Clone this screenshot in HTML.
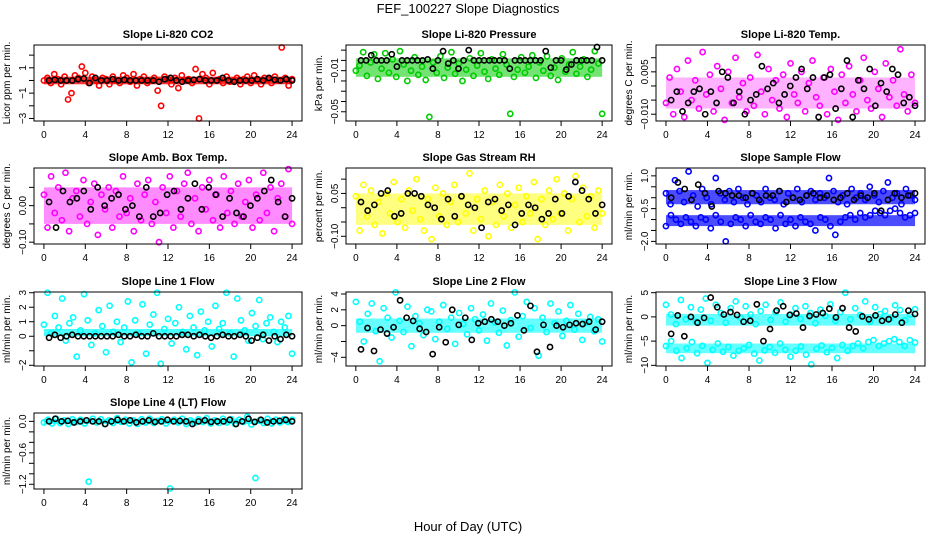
<!DOCTYPE html>
<html><head><meta charset="utf-8"><style>
html,body{margin:0;padding:0;background:#fff;}
svg{display:block;font-family:"Liberation Sans",sans-serif;}
</style></head><body>
<svg id="chart" width="936" height="540" viewBox="0 0 936 540">
<text x="468" y="13" font-size="13" text-anchor="middle">FEF_100227  Slope Diagnostics</text>
<text x="468" y="531" font-size="13" text-anchor="middle">Hour of Day (UTC)</text>
</svg>
<script>
const xTicks = [0,4,8,12,16,20,24];
const titles = ["Slope Li-820 CO2","Slope Li-820 Pressure","Slope Li-820 Temp.","Slope Amb. Box Temp.","Slope Gas Stream RH","Slope Sample Flow","Slope Line 1 Flow","Slope Line 2 Flow","Slope Line 3 Flow","Slope Line 4 (LT) Flow"];
const yTitles = ["Licor ppm per min.","kPa per min.","degrees C per min.","degrees C per min.","percent per min.","ml/min per min.","ml/min per min.","ml/min per min.","ml/min per min.","ml/min per min."];
const colors = ["#ff0000","#00cc00","#ff00ff","#ff00ff","#ffff00","#0000ff","#00ffff","#00ffff","#00ffff","#00ffff"];
const bandOpacity = [0.8,0.55,0.3,0.45,0.5,0.7,0.7,0.6,0.6,0.8];
const yRanges = [[-3.2,2.8],[-0.059,0.015],[-0.0124,0.0145],[-0.105,0.103],[-0.127,0.139],[-2.12,1.36],[-2.05,3.05],[-5.1,4.25],[-10.14,5.14],[-1.29,0.16]];
const yTickVals = [[2,1,0,-1,-2,-3],[0.01,0,-0.01,-0.02,-0.03,-0.04,-0.05],[0.01,0.005,0,-0.005,-0.01],[0.05,0,-0.05,-0.1],[0.1,0.05,0,-0.05,-0.1],[1,0.5,0,-0.5,-1,-1.5,-2],[3,2,1,0,-1,-2],[4,2,0,-2,-4],[5,0,-5,-10],[0,-0.2,-0.4,-0.6,-0.8,-1,-1.2]];
const yTickLabels = [["","1","","\u22121","","\u22123"],["","","\u22120.01","","","","\u22120.05"],["","0.005","","","\u22120.010"],["","0.00","","\u22120.10"],["","0.05","","","\u22120.10"],["1.0","","","\u22120.5","","","\u22122.0"],["3","2","1","0","","\u22122"],["4","2","0","","\u22124"],["5","0","\u22125","\u221210"],["0.0","","","\u22120.6","","","\u22121.2"]];
const bands = [[[-0.3,0.3]],[[-0.016,0.002]],[[-0.008,0.003]],[[-0.05,0.05]],[[-0.06,0.05]],[[-0.3,0.35],[-1.3,-0.8]],[[0,0.5]],[[-0.9,0.9]],[[-1.8,0.6],[-7.5,-5.5]],[[-0.05,0.05]]];
const colA = [
[0,0.2,-0.2,0.5,0.1,-0.3,0.3,-1.5,-1.0,0.4,0.2,1.1,0.6,-0.2,0.3,0,-0.4,0.2,0.1,-0.3,0.3,0,-0.2,0.4,0.2,-0.1,0.5,-0.4,0.1,0.3,-0.2,0,0.2,-0.8,-2.0,0.3,0.1,-0.3,0.2,-0.6,0.4,0,0.1,-0.2,0.9,-3.0,0.5,0.2,-0.3,0.6,0,0.1,-0.2,0.3,-0.1,0,0.2,-0.3,0.1,0.3,-0.2,0.4,0,-0.3,0.2,0.1,-0.2,0.3,0,2.6,0.2,-0.4,0.1],
[-0.01,-0.005,0.008,-0.015,-0.002,0.006,-0.018,-0.008,0.007,-0.012,0.001,-0.016,0.009,-0.004,-0.02,-0.01,0.003,-0.014,-0.006,-0.019,-0.055,-0.002,-0.012,0.004,-0.017,-0.007,0.008,-0.013,-0.003,-0.02,-0.009,0.002,-0.015,-0.005,0.007,-0.011,-0.018,0.001,-0.008,-0.014,0.006,-0.004,-0.052,-0.016,-0.009,0.003,-0.012,-0.006,0.005,-0.017,-0.002,-0.01,0.004,-0.015,-0.007,-0.019,0.002,-0.011,-0.004,0.008,-0.013,-0.006,0.001,-0.016,-0.009,0.009,-0.003,-0.052],
[-0.006,0.003,-0.01,0.006,-0.002,-0.011,0.009,-0.005,0.002,-0.008,0.012,-0.003,0.004,-0.009,0.007,-0.001,-0.012,0.005,-0.006,0.01,-0.004,0.001,-0.009,0.003,-0.007,0.011,-0.002,-0.01,0.006,-0.005,0.002,-0.008,0.004,-0.011,0.008,-0.003,-0.006,0.005,-0.009,0.001,0.009,-0.004,-0.007,0.003,-0.01,0.006,-0.002,-0.012,0.004,-0.006,0.007,-0.003,-0.009,0.002,0.01,-0.005,-0.008,0.005,-0.001,-0.011,0.008,-0.004,0.002,-0.007,0.013,-0.003,-0.009,0.004,-0.006],
[0.03,-0.06,0.08,-0.02,0.05,-0.04,0.09,-0.07,0.02,0.04,-0.03,0.07,-0.05,0.01,0.06,-0.08,0.03,-0.01,0.05,-0.06,0.04,-0.03,0.08,-0.02,0.02,-0.07,0.06,-0.04,0.03,0.07,-0.05,0.01,-0.1,0.05,-0.02,0.08,-0.06,0.04,-0.03,0.06,0.09,-0.05,0.02,-0.07,0.05,-0.01,0.07,-0.04,0.03,-0.06,0.08,-0.02,0.04,-0.05,0.06,-0.03,0.01,0.07,-0.06,0.03,-0.04,0.09,-0.02,0.05,-0.07,0.02,0.06,-0.03,0.1,-0.05],
[0.04,-0.08,0.08,-0.03,0.06,-0.06,0.02,-0.09,0.05,-0.02,0.09,-0.05,0.03,-0.07,0.06,-0.01,0.1,-0.04,-0.08,0.03,-0.11,0.07,-0.03,0.05,-0.06,0.02,0.08,-0.05,0.04,-0.02,0.12,-0.08,0.03,-0.04,0.06,-0.1,0.02,-0.06,0.08,-0.03,0.05,-0.07,0.01,0.07,-0.05,0.04,-0.02,0.09,-0.11,0.03,-0.06,0.06,-0.04,0.1,-0.02,0.05,-0.08,0.03,0.11,-0.05,0.07,-0.03,0.04,-0.07,0.06,-0.02],
[0.2,-0.3,0.8,0.3,-0.2,1.2,0.1,-0.4,0.4,0,-0.3,0.9,0.2,-0.1,0.3,-0.2,0.4,0,-0.3,0.2,0.1,-0.2,0.4,0,-0.1,0.3,-0.3,0.2,0,0.4,-0.2,0.1,0.3,-0.1,0.2,0,0.9,0.3,-0.2,0.1,-0.3,0.4,0,0.2,-0.1,0.5,0.1,-0.2,0.3,0.7,0,0.2,-0.3,0.4,0.1,-0.1],
[0.8,3,0.2,1.4,0.6,2.6,-0.3,0.9,1.3,-1.4,0.4,2.9,1.1,-0.6,0.2,1.8,0.7,-1.1,2.1,0.3,1.0,-0.4,0.6,2.4,-1.8,1.1,0.2,2.2,-1.2,0.8,1.5,3,-1.9,0.5,1.2,-0.5,0.9,2.0,0.3,-0.9,1.4,0.6,-1.3,1.7,0.4,1.0,-0.7,2.1,0.5,0.9,3,0.2,-1.4,2.6,1.1,0.4,-0.3,1.6,0.7,2.5,-0.2,0.9,1.3,0.3,-0.4,1.0,0.6,1.4,-1.2],
[3,0.5,-2,1.5,2.8,-0.7,-4.5,2.2,1,-1.5,4.2,0.6,-0.8,2.4,-2.6,1.2,0.3,-1.2,2,1.8,-1.7,0.5,2.6,-0.4,1,-2.3,1.6,0.2,-1.1,2.2,0.8,-0.6,1.4,-1.9,2.8,0.4,-0.9,1.9,-2.5,0.7,4.2,-1.4,1.2,3,-0.3,2.2,-3.8,1,-0.8,2.8,0.3,1.8,-1.3,0.6,2.6,-0.5,1.5,-1.8,0.4,1.1,-0.7,0.8,-2],
[2.5,0.5,-1.5,3.5,-0.5,2,-1,1.5,3.8,-0.8,2.5,0.8,-1.2,1.8,3.2,-0.2,2.2,0.5,-1.5,1.2,2.5,-0.6,1,3,-1,0.5,1.8,-0.4,2.2,0.8,-1.3,1.5,0.2,2.6,-0.8,1,5,-0.5,1.8,0.4,3.2,-1,2,0.6,1.2,-0.3,2.4,1.4,-0.7,0.5,1.6],
[-0.02,0.03,-0.04,0.05,-0.03,0.02,-0.05,0.04,-0.01,0.03,-0.04,-1.15,0.05,-0.02,0.04,-0.05,0.02,-0.03,0.06,-0.01,0.03,-0.04,0.02,-0.05,0.04,-0.02,0.05,-0.03,0.01,0.04,-0.04,-1.28,0.03,-0.02,0.05,-0.05,0.02,-0.03,0.04,-0.01,0.06,-0.04,0.02,-0.03,0.05,-0.02,0.04,-0.05,0.03,-0.01,0.09,-0.06,-1.08,0.02,-0.03,0.05,-0.04,0.03,-0.02,0.04,-0.01,0.03]
];
const colB = [[],[],[],[],[],
[-1.3,-0.8,-1.0,-1.2,-0.9,-1.1,-1.3,-0.9,-1.0,-1.4,-0.8,-1.1,-2.0,-1.2,-0.9,-1.0,-1.3,-0.8,-1.1,-1.2,-0.9,-1.0,-1.4,-0.8,-1.2,-1.0,-1.3,-0.9,-1.1,-1.2,-1.5,-0.9,-1.0,-1.3,-1.7,-1.1,-0.9,-0.8,-1.0,-0.7,-0.9,-0.8,-0.6,-0.7,-0.8,-0.6,-0.5,-0.7,-0.9,-0.8,-0.7],
[],[],
[-6,-5,-7,-8.5,-6.5,-5.2,-7.5,-6,-9.5,-6.8,-5.5,-7.2,-6.2,-8,-7,-6.5,-5.8,-7.6,-9,-6.9,-6.2,-7.4,-5.5,-6.8,-8.2,-7,-6.1,-7.8,-9.8,-6.6,-5.9,-7.3,-6.4,-8.5,-5.8,-7,-6,-5.5,-6.5,-5.2,-4.8,-6,-5.5,-5,-4.6,-5.2,-6,-4.8,-5.3],
[]];
const blk = [
[0,0.05,0,0,0,0.1,0.15,-0.2,0.2,0,0,0.1,0,0.05,0,0,0,0,0,-0.1,0.1,0.2,0,-0.1,0,0.05,0.1,0,0,0,0.2,0,-0.1,0,0,0,0.1,0,0.2,0.05,0,0.1,0],
[0,0,0.005,0,0,0,0.006,-0.006,0,0,0,0,0,0.001,-0.008,0,0.009,-0.003,0,-0.008,0,0.01,0,0,0,0,0,0,0,-0.008,0,0,0,0,0,0,0.009,-0.007,0,0,-0.009,-0.004,0,0,0,0,0.013,0],
[-0.005,-0.002,-0.009,-0.006,-0.002,-0.001,-0.01,-0.002,-0.006,0.005,0.003,-0.006,-0.002,-0.01,-0.005,-0.003,0.007,-0.001,0.001,-0.006,-0.003,0,0.003,0.006,-0.001,0.003,-0.011,0.003,0.004,-0.008,-0.001,0.009,-0.011,0.002,-0.001,0.006,-0.007,0.001,-0.002,0.006,0.004,-0.006,-0.004,-0.007],
[0.01,-0.06,0.04,0.01,0.02,0.04,-0.01,0.05,0,0.02,0.03,-0.01,0,-0.03,0.05,-0.03,-0.02,0.03,0.04,-0.01,0.02,0.06,-0.01,0.05,0.03,-0.03,0.02,-0.02,-0.03,0,0.02,0.04,0.07,0.01,-0.03,0.02],
[0.02,-0.01,0.01,0.05,0.06,-0.03,-0.02,0.05,0.05,0.04,0.01,0,-0.04,0.03,-0.03,0.04,0.01,0,-0.07,0.02,0.03,-0.01,0.01,-0.06,-0.02,0.01,0,-0.04,-0.02,0.03,-0.02,0.04,0.09,0.06,0.03,-0.02,0.01],
[0,0.7,0.4,-0.1,0.6,0.2,-0.4,0.3,0.2,0.1,0.1,0,0.2,-0.1,0.1,0.1,0.3,-0.2,0,-0.1,0.1,0.2,0,0.1,-0.1,0,0.2,-0.1,0.1,0,0.2,-0.6,-0.1,0.2,0,0.1,0.2],
[-0.1,0.1,-0.1,0,0.1,0,0,0,0,0,0,0,0.1,0,0,0.1,0,0,0.2,0,0,0,0,0.1,0.1,0,0.1,0,-0.1,0,0.1,0,0,0.1,0,-0.3,-0.1,0.1,-0.3,0,-0.2,0.1,0],
[-3,-0.3,-3.2,-0.5,-1,-0.2,3.2,1,0.6,-0.4,-0.8,-3.6,-0.2,-2.1,2,0.1,1,-1.8,0.3,0.5,0.8,0.5,0,0.3,1.3,-0.6,2.5,-3.3,0.1,-2.7,0,-0.2,0.1,0.3,0.2,0.5,-0.5,0.5],
[-3.5,0.3,-4,0,-1.2,-0.2,4,2,0.5,1,0.4,-1,-0.8,2.6,-5,-2.5,1.3,2.2,0.4,0.7,-2.2,0.2,0.5,0.8,1.7,-0.1,1.8,-2.2,-3,0.1,-0.5,0.3,-0.8,-0.5,0.5,-1.2,1.3,0.6],
[0,0.05,0,0.01,-0.02,0,0.02,0,0,-0.05,0,0.03,0,0.02,-0.02,0,0.02,-0.01,0,0.03,0,0.01,0,-0.05,0,0.02,-0.01,0,0,0.03,-0.05,0,0.05,-0.01,0.03,-0.02,0,0.01,0.03,0]
];
const NS="http://www.w3.org/2000/svg";
const svg=document.getElementById('chart');
const colX=[[34,302],[346,612],[656,925]];
const rowY=[[45,121],[168,244],[292,366],[413,489]];
function mk(tag,attrs,parent){const e=document.createElementNS(NS,tag);for(const k in attrs)e.setAttribute(k,attrs[k]);(parent||svg).appendChild(e);return e;}
for(let p=0;p<10;p++){
  const col=p%3,row=Math.floor(p/3);
  const L=colX[col][0],R=colX[col][1],T=rowY[row][0],B=rowY[row][1];
  const xs=h=>L+(h+0.96)*(R-L)/25.92;
  const yr=yRanges[p];
  const ys=v=>B-(v-yr[0])*(B-T)/(yr[1]-yr[0]);
  const g=mk('g',{});
  
  
  const t=mk('text',{x:(L+R)/2,y:T-7,'font-size':11,'font-weight':'bold','text-anchor':'middle'},g);
  t.textContent=titles[p];
  
  
  bands[p].forEach(b=>{
    const r=mk('rect',{x:xs(0),y:ys(b[1]),width:xs(24)-xs(0),height:ys(b[0])-ys(b[1]),fill:colors[p],opacity:bandOpacity[p]},g);
    
    
  });
  [colA[p],colB[p]].forEach(arr=>{
    arr.forEach((v,i)=>{
      const h=i*24/(arr.length-1);
      const c=mk('circle',{cx:xs(h),cy:ys(v),r:2.6,fill:'none',stroke:colors[p],'stroke-width':1.6},g);
      
      
    });
  });
  blk[p].forEach((v,i)=>{
    const h=0.5+i*23.5/(blk[p].length-1);
    const c=mk('circle',{cx:xs(h),cy:ys(v),r:2.6,fill:'none',stroke:'#000','stroke-width':1.6},g);
    
    
  });
  const box=mk('rect',{x:L,y:T,width:R-L,height:B-T,fill:'none',stroke:'#000','stroke-width':1},g);
  
  
  mk('line',{x1:xs(0),x2:xs(24),y1:B,y2:B,stroke:'#000'},g);
  xTicks.forEach(tk=>{
    mk('line',{x1:xs(tk),x2:xs(tk),y1:B,y2:B+5,stroke:'#000'},g);
    const tl=mk('text',{x:xs(tk),y:B+17,'font-size':10,'text-anchor':'middle'},g);
    tl.textContent=tk;
    
    
  });
  const yt=yTickVals[p];
  mk('line',{x1:L,x2:L,y1:ys(yt[0]),y2:ys(yt[yt.length-1]),stroke:'#000'},g);
  yt.forEach((tk,i)=>{
    mk('line',{x1:L-5,x2:L,y1:ys(tk),y2:ys(tk),stroke:'#000'},g);
    if(yTickLabels[p][i]){
      const tl=mk('text',{x:L-8,y:ys(tk),'font-size':10,'text-anchor':'middle',transform:'rotate(-90 '+(L-8)+' '+ys(tk)+')'},g);
      tl.textContent=yTickLabels[p][i];
      
      
    }
  });
  const cy=(T+B)/2;
  const yl=mk('text',{x:L-24,y:cy,'font-size':10,'text-anchor':'middle',transform:'rotate(-90 '+(L-24)+' '+cy+')'},g);
  yl.textContent=yTitles[p];
  
  
}
</script>
</body></html>
